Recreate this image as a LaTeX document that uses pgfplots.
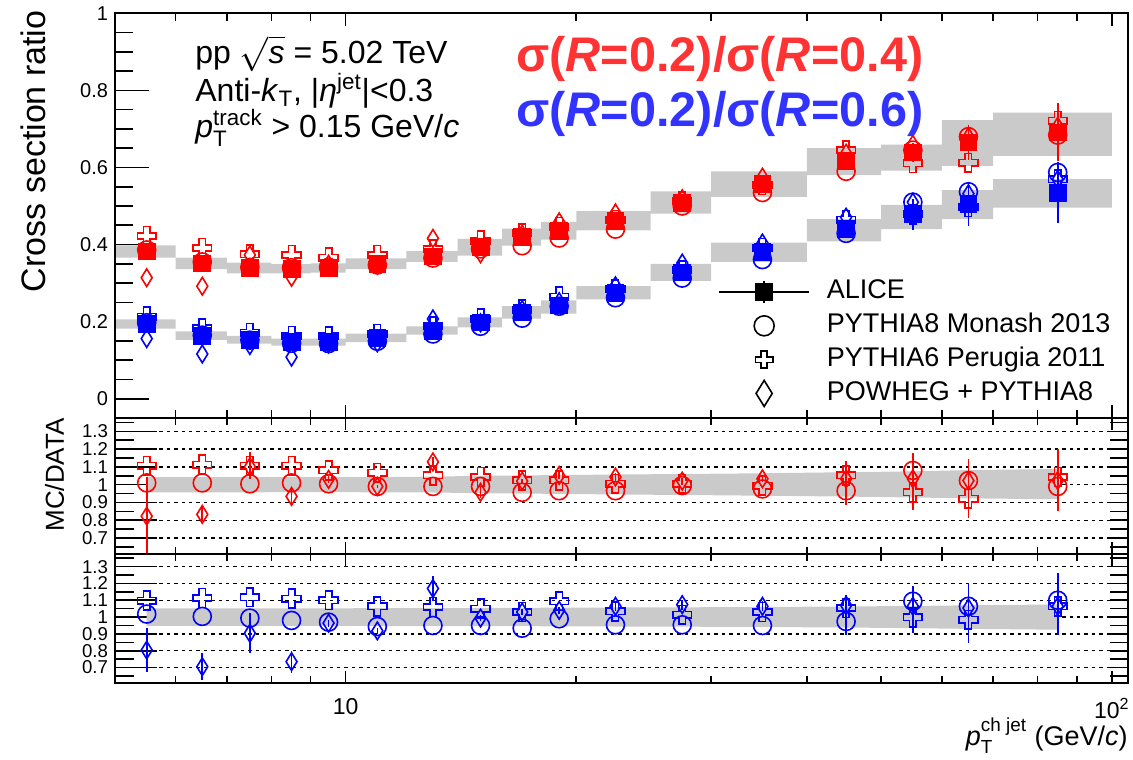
\documentclass[border=0pt]{standalone}
\usepackage{fontspec}
\setmainfont{Liberation Sans}
\usepackage{amsmath}
\usepackage{pgfplots}
\usepackage{pgfplotstable}
\pgfplotsset{compat=1.18}

\definecolor{mred}{RGB}{255,0,0}
\definecolor{mblue}{RGB}{0,0,255}
\definecolor{tred}{RGB}{255,51,51}
\definecolor{tblue}{RGB}{51,51,255}
\definecolor{sysgray}{RGB}{202,202,202}

\pgfdeclareplotmark{ocross}{%
  \pgfpathmoveto{\pgfqpoint{-.34\pgfplotmarksize}{\pgfplotmarksize}}%
  \pgfpathlineto{\pgfqpoint{.34\pgfplotmarksize}{\pgfplotmarksize}}%
  \pgfpathlineto{\pgfqpoint{.34\pgfplotmarksize}{.34\pgfplotmarksize}}%
  \pgfpathlineto{\pgfqpoint{\pgfplotmarksize}{.34\pgfplotmarksize}}%
  \pgfpathlineto{\pgfqpoint{\pgfplotmarksize}{-.34\pgfplotmarksize}}%
  \pgfpathlineto{\pgfqpoint{.34\pgfplotmarksize}{-.34\pgfplotmarksize}}%
  \pgfpathlineto{\pgfqpoint{.34\pgfplotmarksize}{-\pgfplotmarksize}}%
  \pgfpathlineto{\pgfqpoint{-.34\pgfplotmarksize}{-\pgfplotmarksize}}%
  \pgfpathlineto{\pgfqpoint{-.34\pgfplotmarksize}{-.34\pgfplotmarksize}}%
  \pgfpathlineto{\pgfqpoint{-\pgfplotmarksize}{-.34\pgfplotmarksize}}%
  \pgfpathlineto{\pgfqpoint{-\pgfplotmarksize}{.34\pgfplotmarksize}}%
  \pgfpathlineto{\pgfqpoint{-.34\pgfplotmarksize}{.34\pgfplotmarksize}}%
  \pgfpathclose\pgfusepathqstroke}
\pgfdeclareplotmark{odiam}{%
  \pgfpathmoveto{\pgfqpoint{0pt}{\pgfplotmarksize}}%
  \pgfpathlineto{\pgfqpoint{.62\pgfplotmarksize}{0pt}}%
  \pgfpathlineto{\pgfqpoint{0pt}{-\pgfplotmarksize}}%
  \pgfpathlineto{\pgfqpoint{-.62\pgfplotmarksize}{0pt}}%
  \pgfpathclose\pgfusepathqstroke}

% ---------- top panel data (ALICE + MC) ----------
\pgfplotstableread{
x D De c p d
5.5 0.382 0.004 0.386 0.422 0.314
6.5 0.351 0.004 0.355 0.391 0.292
7.5 0.339 0.004 0.341 0.375 0.373
8.5 0.337 0.004 0.340 0.373 0.315
9.5 0.339 0.004 0.341 0.366 0.349
11 0.350 0.004 0.347 0.373 0.347
13 0.369 0.005 0.365 0.388 0.416
15 0.393 0.005 0.389 0.410 0.376
17 0.419 0.006 0.397 0.429 0.427
19 0.436 0.006 0.417 0.446 0.459
22.5 0.462 0.007 0.440 0.464 0.482
27.5 0.509 0.008 0.500 0.512 0.519
35 0.557 0.010 0.535 0.554 0.575
45 0.617 0.015 0.590 0.645 0.637
55 0.639 0.025 0.645 0.611 0.660
65 0.665 0.045 0.680 0.612 0.680
85 0.691 0.075 0.684 0.721 0.707
}\redtop
\pgfplotstableread{
x D De c p d
5.5 0.194 0.004 0.197 0.213 0.156
6.5 0.164 0.004 0.165 0.183 0.116
7.5 0.153 0.004 0.152 0.171 0.138
8.5 0.147 0.004 0.144 0.163 0.108
9.5 0.147 0.004 0.143 0.162 0.142
11 0.158 0.004 0.149 0.168 0.145
13 0.177 0.004 0.168 0.188 0.207
15 0.198 0.005 0.188 0.208 0.197
17 0.224 0.005 0.209 0.231 0.231
19 0.242 0.006 0.240 0.265 0.252
22.5 0.275 0.007 0.262 0.284 0.293
27.5 0.328 0.008 0.313 0.333 0.352
35 0.380 0.010 0.361 0.391 0.404
45 0.440 0.015 0.429 0.464 0.471
55 0.479 0.040 0.510 0.478 0.510
65 0.505 0.058 0.537 0.497 0.532
85 0.535 0.080 0.587 0.569 0.569
}\bluetop
% systematic boxes as one stepped outline (upper edge forward, lower edge back)
\pgfplotstableread{
x y
5 0.398
6 0.366
7 0.353
8 0.349
9 0.351
10 0.364
12 0.383
14 0.415
16 0.441
18 0.459
20 0.487
25 0.538
30 0.590
40 0.650
50 0.659
60 0.723
70 0.742
100 0.742
100 0.630
70 0.604
60 0.592
50 0.580
40 0.524
30 0.480
25 0.437
20 0.413
18 0.397
16 0.371
14 0.355
12 0.336
10 0.327
9 0.325
8 0.325
7 0.336
6 0.366
5 0.366
}\redsys
\pgfplotstableread{
x y
5 0.206
6 0.175
7 0.163
8 0.156
9 0.156
10 0.169
12 0.188
14 0.211
16 0.240
18 0.255
20 0.292
25 0.350
30 0.405
40 0.466
50 0.503
60 0.541
70 0.570
100 0.570
100 0.496
70 0.466
60 0.440
50 0.408
40 0.355
30 0.306
25 0.258
20 0.221
18 0.208
16 0.185
14 0.166
12 0.147
10 0.138
9 0.138
8 0.143
7 0.153
6 0.182
5 0.182
}\bluesys
% ---------- ratio panels ----------
\pgfplotstableread{
x rc rcE rp rpE rd rdE
5.5 1.01 0 1.106 0 0.823 0.22
6.5 1.01 0 1.113 0 0.833 0.04
7.5 1.005 0 1.106 0.075 1.10 0
8.5 1.01 0 1.106 0 0.934 0.055
9.5 1.005 0 1.08 0 1.03 0.02
11 0.99 0 1.067 0 0.99 0.01
13 0.99 0 1.052 0 1.128 0.03
15 0.99 0 1.043 0 0.957 0.03
17 0.957 0 1.024 0 1.02 0.01
19 0.966 0 1.024 0 1.052 0.02
22.5 0.966 0 1.005 0 1.043 0.02
27.5 0.995 0 1.005 0 1.02 0.02
35 0.976 0 0.995 0 1.033 0.02
45 0.966 0.08 1.052 0.08 1.033 0
55 1.08 0.10 0.957 0.10 1.033 0
65 1.023 0.12 0.92 0.11 1.023 0
85 0.99 0.14 1.043 0.16 1.023 0
}\redrat
\pgfplotstableread{
x rc rcE rp rpE rd rdE
5.5 1.018 0 1.098 0 0.804 0.13
6.5 1.004 0 1.114 0 0.705 0.08
7.5 0.994 0 1.118 0 0.904 0.12
8.5 0.98 0 1.11 0 0.735 0.065
9.5 0.97 0 1.10 0 0.964 0.02
11 0.944 0 1.064 0 0.918 0.02
13 0.95 0 1.06 0 1.17 0.075
15 0.95 0 1.05 0 0.994 0.02
17 0.934 0 1.03 0 1.03 0.02
19 0.99 0 1.094 0 1.04 0.02
22.5 0.954 0 1.034 0 1.064 0.03
27.5 0.954 0 1.014 0 1.074 0.03
35 0.95 0 1.03 0 1.064 0.03
45 0.974 0.08 1.054 0.08 1.07 0
55 1.094 0.09 0.998 0.09 1.064 0
65 1.064 0.14 0.984 0.14 1.054 0
85 1.10 0.16 1.064 0.17 1.064 0
}\bluerat
% data systematic bands in the ratio panels (upper edge forward, lower edge back)
\pgfplotstableread{
x y
5.5 1.043
6.5 1.043
7.5 1.043
8.5 1.042
9.5 1.042
11 1.043
13 1.045
15 1.050
17 1.052
19 1.054
22.5 1.057
27.5 1.060
35 1.064
45 1.070
55 1.075
65 1.082
85 1.088
85 0.918
65 0.923
55 0.928
45 0.933
35 0.938
27.5 0.942
22.5 0.945
19 0.948
17 0.950
15 0.952
13 0.956
11 0.957
9.5 0.958
8.5 0.958
7.5 0.957
6.5 0.957
5.5 0.957
}\redband
\pgfplotstableread{
x y
5.5 1.052
6.5 1.052
7.5 1.052
8.5 1.052
9.5 1.052
11 1.053
13 1.053
15 1.054
17 1.055
19 1.056
22.5 1.057
27.5 1.058
35 1.060
45 1.063
55 1.066
65 1.070
85 1.075
85 0.925
65 0.930
55 0.934
45 0.938
35 0.941
27.5 0.943
22.5 0.944
19 0.945
17 0.946
15 0.946
13 0.947
11 0.947
9.5 0.948
8.5 0.948
7.5 0.948
6.5 0.948
5.5 0.948
}\blueband

\pgfplotsset{
  mcirc/.style={only marks, mark=o, mark size=4.5pt, mark options={line width=0.8pt}},
  mcross/.style={only marks, mark=ocross, mark size=4.7pt, mark options={line width=0.8pt}},
  mdiam/.style={only marks, mark=odiam, mark size=4.4pt, mark options={line width=0.8pt}},
  msq/.style={only marks, mark=square*, mark size=4.2pt},
  ebar/.style={/pgfplots/error bars/y dir=both, /pgfplots/error bars/y explicit,
    /pgfplots/error bars/error mark=none,
    /pgfplots/error bars/error bar style={line width=0.8pt}},
}

\begin{document}
\begin{tikzpicture}
\path[use as bounding box] (-57.5pt,-38.15pt) rectangle (509pt,341.35pt);

% ================= TOP PANEL =================
\begin{axis}[xmode=log, xmin=5, xmax=105, scale only axis, width=506.5pt, height=202.35pt,
  anchor=south west, at={(0pt,132.35pt)}, name=top,
  axis line style={line width=1pt}, tick style={line width=0.8pt, black}, tick align=inside,
  /pgf/number format/assume math mode=true,
  ymin=-0.05, ymax=1, ytick={0,0.2,0.4,0.6,0.8,1}, minor y tick num=3,
  ytick pos=left, xtick=\empty, major tick length=17pt, minor tick length=9pt,
  yticklabel style={font=\fontsize{10}{12}\selectfont},
  legend style={at={(0.5953,0.354)}, anchor=north west, draw=none, fill=none,
    font=\fontsize{13.5}{16}\selectfont, inner sep=0pt, row sep=0pt, column sep=6.5pt,
    nodes={inner sep=2pt, text height=9.9pt, text depth=3pt}},
  legend cell align=left]
\addplot[fill=sysgray, draw=none, const plot mark left, forget plot] table[x=x, y=y] {\redsys};
\addplot[fill=sysgray, draw=none, const plot mark left, forget plot] table[x=x, y=y] {\bluesys};

\addplot[mcirc, mred, forget plot] table[x=x, y=c] {\redtop};
\addplot[mcross, mred, forget plot] table[x=x, y=p] {\redtop};
\addplot[mdiam, mred, forget plot] table[x=x, y=d] {\redtop};
\addplot[mcirc, mblue, forget plot] table[x=x, y=c] {\bluetop};
\addplot[mcross, mblue, forget plot] table[x=x, y=p] {\bluetop};
\addplot[mdiam, mblue, forget plot] table[x=x, y=d] {\bluetop};
\addplot[forget plot, msq, mred, ebar] table[x=x, y=D, y error=De] {\redtop};
\addplot[forget plot, msq, mblue, ebar] table[x=x, y=D, y error=De] {\bluetop};

\addlegendimage{legend image code/.code={
  \draw[black, line width=0.7pt] (0pt,0pt) -- (45pt,0pt);
  \draw[black, line width=0.8pt] (22.5pt,-5.4pt) -- (22.5pt,5.4pt);
  \fill[black] (18.3pt,-4.2pt) rectangle (26.7pt,4.2pt);}}
\addlegendentry{ALICE}
\addlegendimage{legend image code/.code={
  \draw[black, line width=0.8pt] (22.5pt,0pt) circle (5pt);}}
\addlegendentry{PYTHIA8 Monash 2013}
\addlegendimage{legend image code/.code={
  \draw[black] plot[mark=ocross, mark size=4.3pt, mark options={line width=0.8pt}] coordinates {(22.5pt,0pt)};}}
\addlegendentry{PYTHIA6 Perugia 2011}
\addlegendimage{legend image code/.code={
  \draw[black] plot[mark=odiam, mark size=6.5pt, mark options={line width=0.8pt}] coordinates {(22.5pt,0pt)};}}
\addlegendentry{POWHEG + PYTHIA8}
\end{axis}
\begin{axis}[xmode=log, xmin=5, xmax=105, scale only axis, width=506.5pt, height=202.35pt,
  anchor=south west, at={(0pt,132.35pt)},
  axis line style={line width=1pt}, tick style={line width=0.8pt, black}, tick align=inside,
  ymin=-0.05, ymax=1, ytick=\empty, xtick={10,100},
  minor xtick={6,7,8,9,20,30,40,50,60,70,80,90}, xtick pos=both,
  xticklabels={}, major tick length=6.5pt, minor tick length=4pt]
\end{axis}

% ================= MIDDLE PANEL (red ratio) =================
\begin{axis}[xmode=log, xmin=5, xmax=105, scale only axis, width=506.5pt, height=68pt,
  anchor=south west, at={(0pt,64.35pt)}, name=mid,
  axis line style={line width=1pt}, tick style={line width=0.8pt, black}, tick align=inside,
  /pgf/number format/assume math mode=true,
  ymin=0.61, ymax=1.375,
  ytick={0.7,0.8,0.9,1,1.1,1.2,1.3}, minor ytick={0.65,0.75,0.85,0.95,1.05,1.15,1.25,1.35},
  ytick pos=left, xtick=\empty, major tick length=21pt, minor tick length=9.5pt,
  ymajorgrids, major grid style={black, line width=0.7pt, dash pattern=on 1.7pt off 2pt},
  yticklabel style={font=\fontsize{9.3}{10}\selectfont}]
\addplot[fill=sysgray, draw=none, forget plot] table[x=x, y=y] {\redband};
\addplot[mcirc, mred, ebar] table[x=x, y=rc, y error=rcE] {\redrat};
\addplot[mcross, mred, ebar] table[x=x, y=rp, y error=rpE] {\redrat};
\addplot[mdiam, mred, ebar] table[x=x, y=rd, y error=rdE] {\redrat};
\end{axis}
\begin{axis}[xmode=log, xmin=5, xmax=105, scale only axis, width=506.5pt, height=68pt,
  anchor=south west, at={(0pt,64.35pt)},
  axis line style={line width=1pt}, tick style={line width=0.8pt, black}, tick align=inside,
  ymin=0.61, ymax=1.375, ytick=\empty, xtick={10,100},
  minor xtick={6,7,8,9,20,30,40,50,60,70,80,90}, xtick pos=both,
  xticklabels={}, major tick length=6pt, minor tick length=3.5pt]
\end{axis}
\begin{axis}[xmode=log, xmin=5, xmax=105, scale only axis, width=506.5pt, height=68pt,
  anchor=south west, at={(0pt,64.35pt)},
  axis line style={line width=1pt}, tick style={line width=0.8pt, black}, tick align=inside,
  ymin=0.61, ymax=1.375,
  xtick=\empty, ytick={0.65,0.7,0.75,0.8,0.85,0.9,0.95,1,1.05,1.1,1.15,1.2,1.25,1.3,1.35},
  yticklabels={}, ytick pos=right, major tick length=9pt]
\end{axis}

% ================= BOTTOM PANEL (blue ratio) =================
\begin{axis}[xmode=log, xmin=5, xmax=105, scale only axis, width=506.5pt, height=64.35pt,
  anchor=south west, at={(0pt,0pt)}, name=bot,
  axis line style={line width=1pt}, tick style={line width=0.8pt, black}, tick align=inside,
  /pgf/number format/assume math mode=true,
  ymin=0.61, ymax=1.375,
  ytick={0.7,0.8,0.9,1,1.1,1.2,1.3}, minor ytick={0.65,0.75,0.85,0.95,1.05,1.15,1.25,1.35},
  ytick pos=left, xtick=\empty, major tick length=21pt, minor tick length=9.5pt,
  ymajorgrids, major grid style={black, line width=0.7pt, dash pattern=on 1.7pt off 2pt},
  yticklabel style={font=\fontsize{9.3}{10}\selectfont}]
\addplot[fill=sysgray, draw=none, forget plot] table[x=x, y=y] {\blueband};
\addplot[mcirc, mblue, ebar] table[x=x, y=rc, y error=rcE] {\bluerat};
\addplot[mcross, mblue, ebar] table[x=x, y=rp, y error=rpE] {\bluerat};
\addplot[mdiam, mblue, ebar] table[x=x, y=rd, y error=rdE] {\bluerat};
\end{axis}
\begin{axis}[xmode=log, xmin=5, xmax=105, scale only axis, width=506.5pt, height=64.35pt,
  anchor=south west, at={(0pt,0pt)},
  axis line style={line width=1pt}, tick style={line width=0.8pt, black}, tick align=inside,
  ymin=0.61, ymax=1.375, ytick=\empty, xtick={10,100},
  minor xtick={6,7,8,9,20,30,40,50,60,70,80,90}, xtick pos=both,
  xticklabels={10,{10\textsuperscript{2}}}, xticklabel pos=lower,
  xticklabel style={font=\fontsize{11.5}{13}\selectfont, yshift=-4.2pt},
  major tick length=6pt, minor tick length=3.5pt]
\end{axis}
\begin{axis}[xmode=log, xmin=5, xmax=105, scale only axis, width=506.5pt, height=64.35pt,
  anchor=south west, at={(0pt,0pt)},
  axis line style={line width=1pt}, tick style={line width=0.8pt, black}, tick align=inside,
  ymin=0.61, ymax=1.375,
  xtick=\empty, ytick={0.65,0.7,0.75,0.8,0.85,0.9,0.95,1,1.05,1.1,1.15,1.2,1.25,1.3,1.35},
  yticklabels={}, ytick pos=right, major tick length=9pt]
\end{axis}

% ================= texts =================
\node[anchor=base west, inner sep=0pt, font=\fontsize{16}{18.5}\selectfont]
  at ([xshift=40pt,yshift=-25.35pt]top.north west) {pp \(\sqrt{\text{\textit{s}}}\) = 5.02 TeV};
\node[anchor=base west, inner sep=0pt, font=\fontsize{16}{18.5}\selectfont]
  at ([xshift=40pt,yshift=-44.2pt]top.north west) {Anti-\textit{k}\textsubscript{T}, |\textit{η}\textsuperscript{jet}|<0.3};
\node[anchor=base west, inner sep=0pt, font=\fontsize{16}{18.5}\selectfont]
  at ([xshift=40pt,yshift=-62.35pt]top.north west) {\textit{p}\(^{\text{track}}_{\text{T}}\) > 0.15 GeV/\textit{c}};
\node[anchor=base west, inner sep=0pt, text=tred, font=\fontsize{24.3}{28}\selectfont\bfseries]
  at ([xshift=200.5pt,yshift=-29.2pt]top.north west) {σ(\textit{R}=0.2)/σ(\textit{R}=0.4)};
\node[anchor=base west, inner sep=0pt, text=tblue, font=\fontsize{24.3}{28}\selectfont\bfseries]
  at ([xshift=200.5pt,yshift=-56.7pt]top.north west) {σ(\textit{R}=0.2)/σ(\textit{R}=0.6)};
\node[rotate=90, anchor=base east, inner sep=0pt, font=\fontsize{17}{20}\selectfont]
  at ([xshift=-35pt,yshift=1.6pt]top.north west) {Cross section ratio};
\node[rotate=90, anchor=base east, inner sep=0pt, font=\fontsize{13}{15}\selectfont]
  at ([xshift=-25.5pt]mid.north west) {MC/DATA};
\node[anchor=base east, inner sep=0pt, font=\fontsize{13.5}{16}\selectfont]
  at ([yshift=-31.5pt]bot.south east) {\textit{p}\(^{\text{ch jet}}_{\text{T}}\) (GeV/\textit{c})};
\end{tikzpicture}
\end{document}
